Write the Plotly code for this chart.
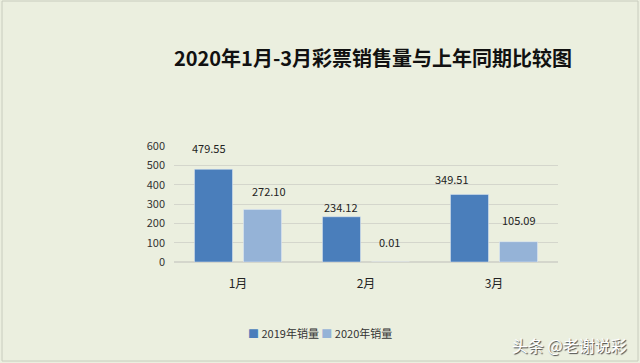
import plotly.graph_objects as go

categories = ["1月", "2月", "3月"]
sales_2019 = [479.55, 234.12, 349.51]
sales_2020 = [272.10, 0.01, 105.09]
label_2019 = ["479.55", "234.12", "349.51"]
label_2020 = ["272.10", "0.01", "105.09"]
y_ticks = [0, 100, 200, 300, 400, 500, 600]
series_names = ["2019年销量", "2020年销量"]

# label placement tweaks (pixels) as in the reference
dx_2019 = [-29, -25.5, -42]
dy_2019 = [21, 10, 15.5]
dx_2020 = [31, 23.5, 24.5]
dy_2020 = [18.5, 20.5, 21.5]

C1 = "#4A7EBB"
C2 = "#95B3D7"
BG = "#EBEFDF"
FONT = "Noto Sans CJK SC"

fig = go.Figure()
fig.add_trace(go.Bar(name=series_names[0], x=categories, y=sales_2019, marker_color=C1,
                     offsetgroup=0))
fig.add_trace(go.Bar(name=series_names[1], x=categories, y=sales_2020, marker_color=C2,
                     offsetgroup=1))

for i, c in enumerate(categories):
    fig.add_annotation(x=c, y=sales_2019[i], text=label_2019[i], showarrow=False,
                       xshift=dx_2019[i], yshift=dy_2019[i],
                       font=dict(size=11, color="#222222", family=FONT))
    fig.add_annotation(x=c, y=sales_2020[i], text=label_2020[i], showarrow=False,
                       xshift=dx_2020[i], yshift=dy_2020[i],
                       font=dict(size=11, color="#222222", family=FONT))

legend_text = (f"<span style='color:{C1}'>■</span> {series_names[0]} "
               f"<span style='color:{C2}'>■</span> {series_names[1]}")
fig.add_annotation(xref="paper", yref="paper", x=(320 - 174) / 384, y=(262 - 333) / 116,
                   text=legend_text, showarrow=False, xanchor="center", yanchor="middle",
                   font=dict(size=11, color="#333333", family=FONT))

fig.add_annotation(xref="paper", yref="paper", x=(629 - 174) / 384, y=(262 - 345) / 116,
                   text="头条 @老谢说彩", showarrow=False, xanchor="right", yanchor="middle",
                   font=dict(size=16, color="#FFFFFF", family=FONT, shadow="1px 1px 1px #444444"))

fig.update_layout(
    width=640, height=363,
    paper_bgcolor=BG, plot_bgcolor=BG,
    margin=dict(l=174, r=82, t=146, b=101),
    barmode="group", bargap=0.234, bargroupgap=0.2245,
    title=dict(text="<b>2020年1月-3月彩票销售量与上年同期比较图</b>", x=373 / 640, xanchor="center",
               y=1 - 59 / 363, yanchor="middle",
               font=dict(size=20, color="#111111", family=FONT)),
    font=dict(family=FONT, color="#333333"),
    showlegend=False,
    xaxis=dict(showgrid=False, showline=False, ticks="", tickfont=dict(size=12, color="#222222"),
               ticklabelstandoff=13),
    yaxis=dict(range=[0, 600], tickvals=y_ticks, showgrid=True, gridcolor="#D4D6CC",
               gridwidth=1, zeroline=True, zerolinecolor="#D4D6CC", showline=False,
               tickfont=dict(size=11, color="#333333"), ticks="", ticklabelstandoff=8),
    shapes=[dict(type="rect", xref="paper", yref="paper",
                 x0=(2 - 174) / 384, x1=(638 - 174) / 384,
                 y0=(262 - 361) / 116, y1=(262 - 1) / 116,
                 line=dict(color="#C8CCBE", width=1), fillcolor="rgba(0,0,0,0)")],
)

fig.write_html("out.html", config={"displayModeBar": False},
               post_script="document.body.style.margin='0';document.body.style.padding='0';")
